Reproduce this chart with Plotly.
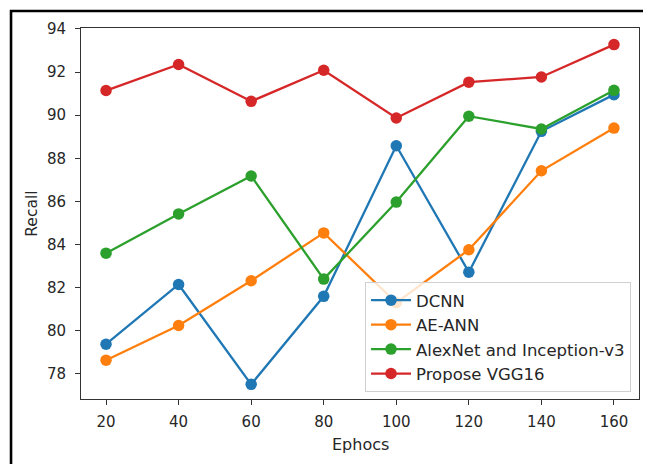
import plotly.graph_objects as go

epochs = [20, 40, 60, 80, 100, 120, 140, 160]
dcnn = [79.38, 82.15, 77.52, 81.6, 88.58, 82.72, 89.25, 90.95]
ae_ann = [78.64, 80.25, 82.32, 84.54, 81.3, 83.76, 87.42, 89.4]
alexnet = [83.6, 85.42, 87.18, 82.4, 85.97, 89.95, 89.36, 91.15]
vgg16 = [91.14, 92.35, 90.64, 92.08, 89.87, 91.53, 91.77, 93.27]

series = [
    ("DCNN", dcnn, "#1f77b4"),
    ("AE-ANN", ae_ann, "#ff7f0e"),
    ("AlexNet and Inception-v3", alexnet, "#2ca02c"),
    ("Propose VGG16", vgg16, "#d62728"),
]

x_ticks = [20, 40, 60, 80, 100, 120, 140, 160]
y_ticks = [78, 80, 82, 84, 86, 88, 90, 92, 94]

fig = go.Figure()
for name, vals, color in series:
    fig.add_trace(go.Scatter(
        x=epochs, y=vals, name=name, mode="lines+markers",
        line=dict(color=color, width=2.3),
        marker=dict(color=color, size=11.5),
    ))

font = "DejaVu Sans"
# The page body adds an 8px offset; the figure is sized/margined to compensate.
fig.update_layout(
    width=643, height=456,
    margin=dict(l=73, r=12, t=20, b=65),
    paper_bgcolor="white", plot_bgcolor="white",
    font=dict(family=font, size=15, color="#262626"),
    showlegend=True,
    legend=dict(
        x=0.9857, y=0.019, xanchor="right", yanchor="bottom",
        bgcolor="rgba(255,255,255,0.8)", bordercolor="#d0d0d0", borderwidth=1,
        font=dict(family=font, size=16.5, color="#262626"),
        tracegroupgap=0, itemwidth=40,
    ),
    xaxis=dict(
        range=[13.1, 166.9], tickvals=x_ticks, ticks="outside", ticklen=5,
        tickcolor="#333", showgrid=False, zeroline=False,
        showline=True, linecolor="#333", linewidth=1, mirror=True,
        ticklabelstandoff=4,
    ),
    yaxis=dict(
        range=[76.84, 94.04], tickvals=y_ticks, ticks="outside", ticklen=5,
        tickcolor="#333", showgrid=False, zeroline=False,
        showline=True, linecolor="#333", linewidth=1, mirror=True,
        ticklabelstandoff=6,
    ),
    annotations=[
        dict(text="Ephocs", xref="paper", yref="paper", x=0.5, y=-0.1213,
             xanchor="center", yanchor="middle", showarrow=False,
             font=dict(family=font, size=16, color="#262626")),
        dict(text="Recall", xref="paper", yref="paper", x=-0.0892, y=0.5,
             xanchor="center", yanchor="middle", showarrow=False, textangle=-90,
             font=dict(family=font, size=15.5, color="#262626")),
    ],
    shapes=[
        dict(type="rect", xref="paper", yref="paper",
             x0=-0.1254, x1=1.0161, y0=-0.2, y1=1.0458,
             line=dict(color="black", width=2.6), fillcolor="rgba(0,0,0,0)"),
    ],
)

fig.write_html("out.html")
